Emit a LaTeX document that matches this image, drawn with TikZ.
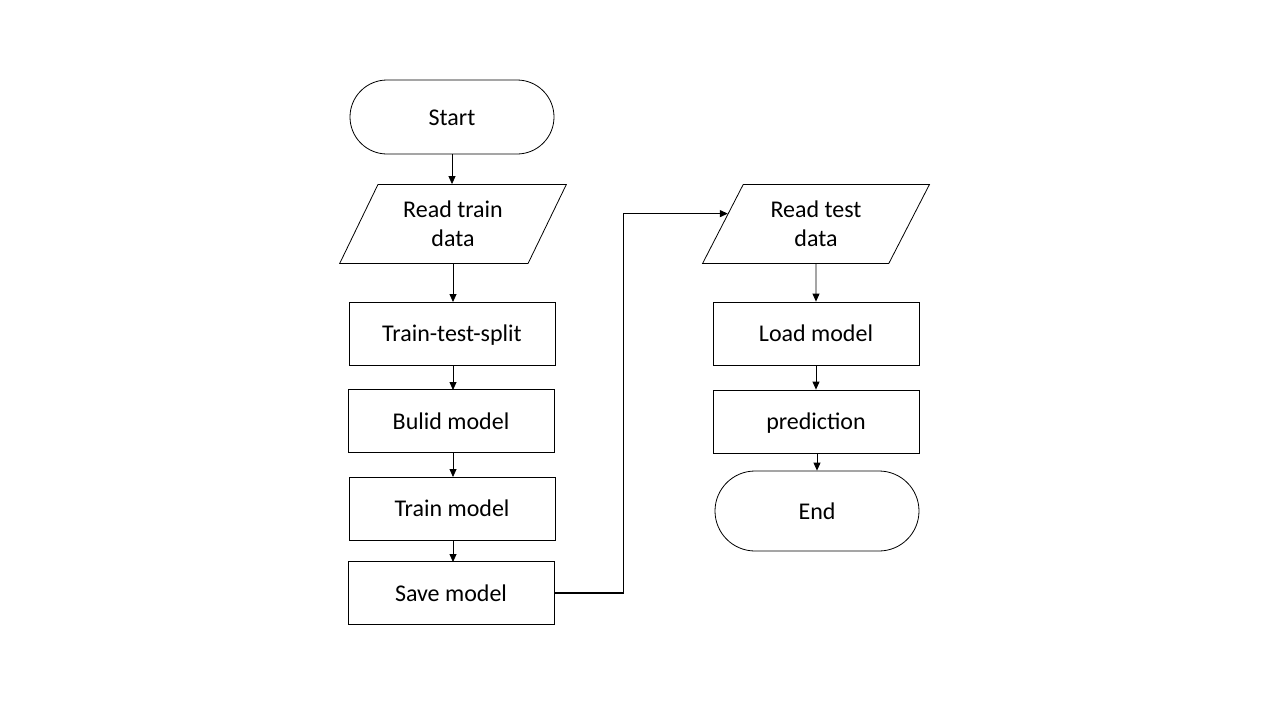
\documentclass[tikz,border=0pt]{standalone}
\usepackage{fontspec}
\setmainfont{Carlito}
\usetikzlibrary{shapes.geometric,arrows.meta,calc}
\begin{document}
\begin{tikzpicture}[x=1pt,y=-1pt,
  every node/.style={font=\fontsize{24}{29}\selectfont, align=center, inner sep=0pt},
  onelinetext/.style={text height=16pt, text depth=0pt},
  boxstyle/.style={draw, line width=0.8pt, rectangle, minimum width=206pt, minimum height=63pt, onelinetext},
  termstyle/.style={draw, line width=0.8pt, rectangle, rounded corners=37pt, minimum width=204pt, minimum height=74pt, onelinetext},
  iostyle/.style={draw, line width=0.8pt, trapezium, trapezium left angle=61, trapezium right angle=119,
     trapezium stretches=true, minimum width=227pt, minimum height=79pt},
  conn/.style={line width=0.8pt, -{Triangle[length=8pt,width=7pt]}},
  connthick/.style={line width=1.4pt, -{Triangle[length=8pt,width=7pt]}}
]
\fill[white] (0,0) rectangle (1280,720);
\useasboundingbox (0,0) rectangle (1280,720);

\node[termstyle] (start) at (452,117) {Start};
\node[iostyle] (rtr) at (453,224) {Read train\\data};
\node[boxstyle] (split) at (452,333.5) {Train-test-split};
\node[boxstyle] (build) at (451,421) {Bulid model};
\node[boxstyle] (train) at (452,508.5) {Train model};
\node[boxstyle] (save) at (451,593) {Save model};

\node[iostyle] (rte) at (816,224) {Read test\\data};
\node[boxstyle] (load) at (816,333.5) {Load model};
\node[boxstyle] (pred) at (816,421.5) {prediction};
\node[termstyle, minimum height=80pt, rounded corners=40pt] (end) at (817,511) {End};

\draw[conn] (start.south) -- (start.south |- rtr.north);
\draw[conn] (rtr.south -| 453,0) -- (453,302);
\draw[conn] (453,365) -- (453,390);
\draw[conn] (453,452) -- (453,477);
\draw[conn] (453,540) -- (453,562);
\draw[conn] (rte.south) -- (load.north);
\draw[conn] (load.south) -- (pred.north);
\draw[conn] (pred.south -| end.north) -- (end.north);

\coordinate (tgt) at ($(rte.top left corner)!0.37!(rte.bottom left corner)$);
\draw[connthick] (save.east) -- ++(69,0) |- (tgt);
\end{tikzpicture}
\end{document}
